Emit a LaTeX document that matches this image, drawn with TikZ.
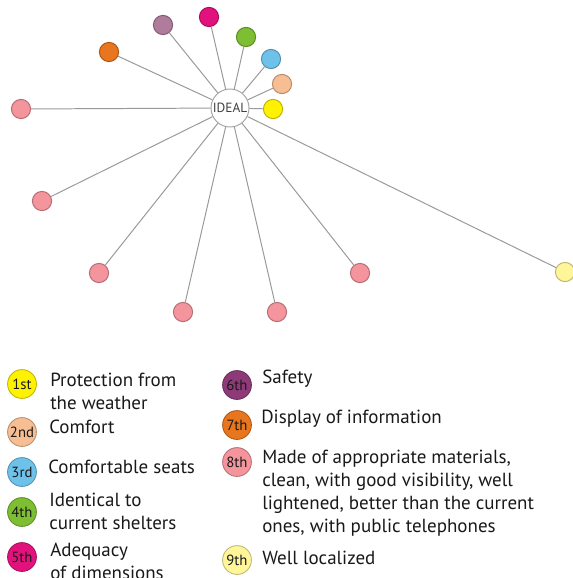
\documentclass[tikz,border=0pt]{standalone}
\usepackage{fontspec}
\setmainfont{PT Sans}
\definecolor{rosy}{HTML}{F4949C}
\definecolor{lemon}{HTML}{FFF200}
\definecolor{peach}{HTML}{F6BE92}
\definecolor{sky}{HTML}{6EC2EA}
\definecolor{leaf}{HTML}{7DBE32}
\definecolor{berry}{HTML}{E2127C}
\definecolor{mauve}{HTML}{B07C9C}
\definecolor{plum}{HTML}{8E3A78}
\definecolor{carrot}{HTML}{E8761E}
\definecolor{pale}{HTML}{FFF69A}
\begin{document}
\begin{tikzpicture}[x=0.025cm,y=-0.025cm,
    dot/.style={circle,fill=#1,draw=#1!75!black,line width=0.7pt,minimum size=0.48cm,inner sep=0pt},
    hub/.style={circle,draw=black!35,fill=white,line width=0.7pt,minimum size=0.95cm,inner sep=0pt,font=\fontsize{9.5}{10}\selectfont,text=black!75},
    spoke/.style={draw=black!40,line width=0.7pt},
    rank/.style={circle,fill=#1,draw=#1!75!black,line width=0.6pt,minimum size=0.72cm,inner sep=0pt,font=\fontsize{10.5}{10}\selectfont,text=black!90},
    item/.style={anchor=west,align=left,inner sep=0pt,font=\fontsize{13.5}{16.3}\selectfont,text=black!90}]
  \useasboundingbox (0,0) rectangle (572,578);
  % the star
  \node[hub] (ideal) at (230,108) {IDEAL};
  \node[dot=lemon]  (n1) at (273,109) {};
  \node[dot=peach]  (n2) at (282,84) {};
  \node[dot=sky]    (n3) at (271,59) {};
  \node[dot=leaf]   (n4) at (246,37) {};
  \node[dot=berry]  (n5) at (209,17) {};
  \node[dot=mauve]  (n6) at (163,25) {};
  \node[dot=carrot] (n7) at (109,52) {};
  \node[dot=rosy]   (p1) at (21,109) {};
  \node[dot=rosy]   (p2) at (42,201) {};
  \node[dot=rosy]   (p3) at (99,273) {};
  \node[dot=rosy]   (p4) at (183,312) {};
  \node[dot=rosy]   (p5) at (277,312) {};
  \node[dot=rosy]   (p6) at (360,273) {};
  \node[dot=pale]   (n9) at (565,272) {};
  \foreach \n in {n1,n2,n3,n4,n5,n6,n7,p1,p2,p3,p4,p5,p6,n9}
    \draw[spoke] (ideal) -- (\n);
  % legend
  \node[rank=lemon]  (r1) at (22,384) {1st};
  \node[rank=peach]  (r2) at (22,432) {2nd};
  \node[rank=sky]    (r3) at (22,472) {3rd};
  \node[rank=leaf]   (r4) at (22,512) {4th};
  \node[rank=berry]  (r5) at (22,557) {5th};
  \node[rank=plum]   (r6) at (237,385) {6th};
  \node[rank=carrot] (r7) at (237,425) {7th};
  \node[rank=rosy]   (r8) at (237,462) {8th};
  \node[rank=pale]   (r9) at (237,560) {9th};
  \node[item] (t1) at (50,391.5) {Protection from\\the weather};
  \node[item] (t2) at (49,427) {Comfort};
  \node[item] (t3) at (48,467) {Comfortable seats};
  \node[item] (t4) at (49,511.5) {Identical to\\current shelters};
  \node[item] (t5) at (50,561.5) {Adequacy\\of dimensions};
  \node[item] (t6) at (262,379) {Safety};
  \node[item] (t7) at (261,419) {Display of information};
  \node[item] (t8) at (262,493) {Made of appropriate materials,\\clean, with good visibility, well\\lightened, better than the current\\ones, with public telephones};
  \node[item] (t9) at (262,558) {Well localized};
\end{tikzpicture}
\end{document}
